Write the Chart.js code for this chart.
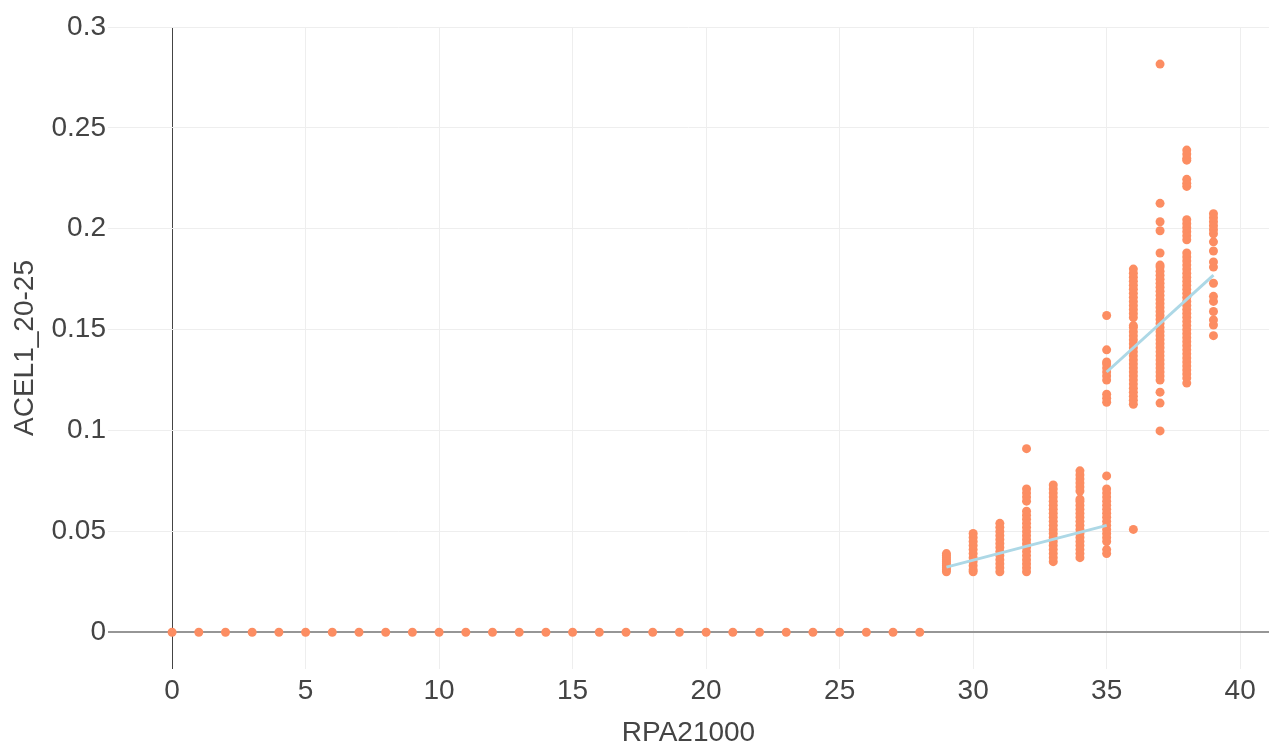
<!DOCTYPE html>
<html>
<head>
<meta charset="utf-8">
<script src="https://cdn.jsdelivr.net/npm/chart.js@4/dist/chart.umd.min.js"></script>
<style>
  html, body { margin: 0; padding: 0; background: #fff; }
  #wrap { width: 1269px; height: 744px; }
</style>
</head>
<body>
<div id="wrap"><canvas id="c" width="1269" height="744"></canvas></div>
<script>
// ---- data ----
const xTitle = "RPA21000";
const yTitle = "ACEL1_20-25";
const xTickValues = [0, 5, 10, 15, 20, 25, 30, 35, 40];
const xTickLabels = ["0", "5", "10", "15", "20", "25", "30", "35", "40"];
const yTickValues = [0, 0.05, 0.1, 0.15, 0.2, 0.25, 0.3];
const yTickLabels = ["0", "0.05", "0.1", "0.15", "0.2", "0.25", "0.3"];

const zeroX = [0,1,2,3,4,5,6,7,8,9,10,11,12,13,14,15,16,17,18,19,20,21,22,23,24,25,26,27,28];
const zeroY = [0,0,0,0,0,0,0,0,0,0,0,0,0,0,0,0,0,0,0,0,0,0,0,0,0,0,0,0,0];

const col29 = [0.030,0.031,0.032,0.033,0.034,0.035,0.036,0.037,0.038,0.039];
const col30 = [0.030,0.031,0.033,0.035,0.037,0.039,0.041,0.043,0.045,0.047,0.049];
const col31 = [0.030,0.032,0.034,0.036,0.038,0.040,0.042,0.044,0.046,0.048,0.050,0.052,0.054];
const col32 = [0.030,0.032,0.034,0.036,0.038,0.040,0.042,0.044,0.046,0.048,0.050,0.052,0.054,0.056,0.058,0.060,0.065,0.067,0.069,0.071,0.091];
const col33 = [0.035,0.037,0.039,0.041,0.043,0.045,0.047,0.049,0.051,0.053,0.055,0.057,0.059,0.061,0.063,0.065,0.067,0.069,0.071,0.073];
const col34 = [0.037,0.039,0.041,0.043,0.045,0.047,0.049,0.051,0.053,0.055,0.057,0.059,0.061,0.063,0.065,0.066,0.070,0.072,0.074,0.076,0.078,0.080];
const col35 = [0.039,0.041,0.045,0.047,0.049,0.051,0.053,0.055,0.057,0.059,0.061,0.063,0.065,0.067,0.069,0.071,0.0775,
               0.114,0.116,0.118,0.125,0.127,0.129,0.131,0.133,0.134,0.140,0.157];
const col36 = [0.051,0.113,0.115,0.117,0.119,0.121,0.123,0.125,0.127,0.129,0.131,0.133,0.135,0.137,0.139,0.141,0.143,0.145,0.147,0.149,0.151,0.152,
               0.156,0.158,0.160,0.162,0.164,0.166,0.168,0.170,0.172,0.174,0.176,0.178,0.180];
const col37 = [0.0998,0.1136,0.119,0.125,0.127,0.129,0.131,0.133,0.135,0.137,0.139,0.141,0.143,0.145,0.147,0.149,0.151,0.153,0.155,0.157,0.159,0.161,0.163,0.165,0.167,0.169,0.171,0.173,0.175,0.177,0.179,0.181,0.182,
               0.188,0.199,0.2035,0.2126,0.2816];
const col38 = [0.1235,0.126,0.128,0.130,0.132,0.134,0.136,0.138,0.140,0.142,0.144,0.146,0.148,0.150,0.152,0.154,0.156,0.158,0.160,0.162,0.164,0.166,0.168,0.170,0.172,0.174,0.176,0.178,0.180,0.182,0.184,0.186,0.188,
               0.1945,0.1965,0.1985,0.2005,0.2025,0.2045,0.221,0.2225,0.2245,0.234,0.235,0.237,0.239];
const col39 = [0.147,0.1523,0.1548,0.159,0.164,0.1665,0.173,0.181,0.1835,0.189,0.1935,0.1975,0.1995,0.2015,0.2035,0.2055,0.2075];

const columnX = [29, 30, 31, 32, 33, 34, 35, 36, 37, 38, 39];
const columnY = [col29, col30, col31, col32, col33, col34, col35, col36, col37, col38, col39];

const trendAX = [29, 35];
const trendAY = [0.0323, 0.0530];
const trendBX = [35, 39];
const trendBY = [0.129, 0.177];

// ---- build ----
const points = [];
zeroX.forEach((x, i) => points.push({x: x, y: zeroY[i]}));
columnX.forEach((x, i) => columnY[i].forEach(y => points.push({x: x, y: y})));

const trendA = trendAX.map((x, i) => ({x: x, y: trendAY[i]}));
const trendB = trendBX.map((x, i) => ({x: x, y: trendBY[i]}));

const FONT = '"Liberation Sans", Arial, sans-serif';
const ORANGE = 'rgb(252,141,98)';
const BLUE = 'rgb(173,216,230)';

new Chart(document.getElementById('c'), {
  type: 'scatter',
  data: {
    datasets: [
      { type: 'line', data: trendA, borderColor: BLUE, borderWidth: 3, pointRadius: 0, fill: false, order: 0 },
      { type: 'line', data: trendB, borderColor: BLUE, borderWidth: 3, pointRadius: 0, fill: false, order: 0 },
      { data: points, backgroundColor: ORANGE, borderColor: ORANGE, borderWidth: 0, pointRadius: 4.5, order: 1 }
    ]
  },
  options: {
    responsive: false,
    animation: false,
    events: [],
    layout: { autoPadding: false, padding: { top: 27, right: 0, bottom: 0, left: 0 } },
    plugins: { legend: { display: false }, tooltip: { enabled: false } },
    scales: {
      x: {
        type: 'linear',
        min: -2.4,
        max: 41.08,
        afterBuildTicks: s => { s.ticks = xTickValues.map(v => ({value: v})); },
        afterFit: s => { s.height = 75; s.paddingLeft = 0; s.paddingRight = 0; },
        border: { display: false },
        grid: {
          drawTicks: false,
          color: c => (c.tick && c.tick.value === 0) ? '#444' : '#eeeeee',
          lineWidth: 1
        },
        ticks: {
          padding: 5,
          color: '#444',
          font: { family: FONT, size: 28 },
          maxRotation: 0,
          callback: (v) => { const i = xTickValues.indexOf(v); return i >= 0 ? xTickLabels[i] : ''; }
        },
        title: {
          display: true, text: xTitle, color: '#444',
          font: { family: FONT, size: 28, lineHeight: 0.7 },
          padding: { top: 0, bottom: 1 }
        }
      },
      y: {
        type: 'linear',
        min: -0.0182,
        max: 0.3,
        afterBuildTicks: s => { s.ticks = yTickValues.map(v => ({value: v})); },
        afterFit: s => { s.width = 108; s.paddingTop = 0; s.paddingBottom = 0; },
        border: { display: false },
        grid: {
          drawTicks: false,
          color: c => (c.tick && c.tick.value === 0) ? 'rgb(150,150,150)' : '#eeeeee',
          lineWidth: c => (c.tick && c.tick.value === 0) ? 2 : 1
        },
        ticks: {
          padding: 2,
          color: '#444',
          font: { family: FONT, size: 28 },
          callback: (v) => { const i = yTickValues.indexOf(v); return i >= 0 ? yTickLabels[i] : ''; }
        },
        title: {
          display: true, text: yTitle, color: '#444',
          font: { family: FONT, size: 28 },
          padding: { top: 8, bottom: 0 }
        }
      }
    }
  }
});
</script>
</body>
</html>
